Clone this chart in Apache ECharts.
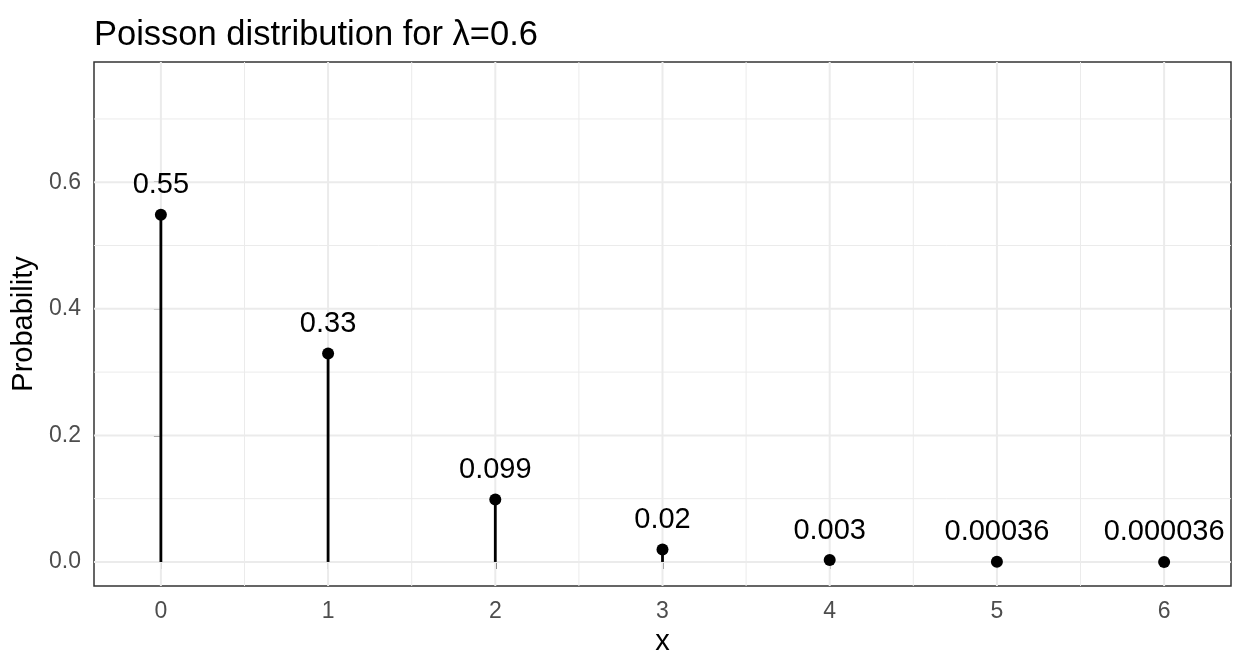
<!DOCTYPE html>
<html>
<head>
<meta charset="utf-8">
<script src="https://cdn.jsdelivr.net/npm/echarts@6/dist/echarts.min.js"></script>
<style>
  html, body { margin: 0; padding: 0; background: #ffffff; }
  #chart { width: 1235px; height: 652px; }
</style>
</head>
<body>
<div id="chart"></div>
<script>
const xValues = [0, 1, 2, 3, 4, 5, 6];
const probabilities = [0.5488, 0.3293, 0.0988, 0.0198, 0.00296, 0.000356, 0.0000356];
const valueLabels = ['0.55', '0.33', '0.099', '0.02', '0.003', '0.00036', '0.000036'];
const yTickValues = [0, 0.2, 0.4, 0.6];
const yMinorValues = [0.1, 0.3, 0.5, 0.7];
const xTickValues = [0, 1, 2, 3, 4, 5, 6];
const xMinorValues = [0.5, 1.5, 2.5, 3.5, 4.5, 5.5];

const FONT = 'Liberation Sans, Arial, Helvetica, sans-serif';
const chart = echarts.init(document.getElementById('chart'), null, { renderer: 'canvas' });

const points = xValues.map((x, i) => ({ value: [x, probabilities[i]], label: { formatter: valueLabels[i] } }));

// grid line items: [value, lineWidth]
const hLines = yMinorValues.map(v => [v, 1]).concat(yTickValues.map(v => [v, 2]));
const vLines = xMinorValues.map(v => [v, 1]).concat(xTickValues.map(v => [v, 2]));

function gridRender(horizontal) {
  return function (params, api) {
    const cs = params.coordSys;
    const v = api.value(0);
    const w = api.value(1);
    let shape;
    if (horizontal) {
      const p = api.coord([0, v]);
      shape = { x1: cs.x, y1: p[1], x2: cs.x + cs.width, y2: p[1] };
    } else {
      const p = api.coord([v, 0]);
      shape = { x1: p[0], y1: cs.y, x2: p[0], y2: cs.y + cs.height };
    }
    return { type: 'line', shape: shape, style: { stroke: '#EBEBEB', lineWidth: w } };
  };
}

chart.setOption({
  animation: false,
  backgroundColor: '#ffffff',
  textStyle: { fontFamily: FONT },
  title: {
    text: 'Poisson distribution for λ=0.6',
    left: 89, top: 13,
    textStyle: { fontFamily: FONT, fontSize: 34.5, fontWeight: 'normal', color: '#000000' }
  },
  grid: {
    left: 94, top: 62, width: 1137, height: 524,
    outerBoundsMode: 'none', containLabel: false,
    show: true, borderColor: '#333333', borderWidth: 1.5, backgroundColor: '#ffffff'
  },
  xAxis: {
    type: 'value', min: -0.4, max: 6.4,
    name: 'x', nameLocation: 'middle', nameGap: 40,
    nameTextStyle: { fontFamily: FONT, fontSize: 29, color: '#000000' },
    axisLine: { show: false },
    splitLine: { show: false },
    axisTick: { show: true, length: 7, customValues: xTickValues, lineStyle: { color: '#333333', width: 1.5 } },
    axisLabel: { customValues: xTickValues, margin: 14, fontSize: 23, color: '#4D4D4D', fontFamily: FONT, formatter: v => String(v) }
  },
  yAxis: {
    type: 'value', min: -0.038, max: 0.79,
    name: 'Probability', nameLocation: 'middle', nameGap: 53, nameRotate: 90,
    nameTextStyle: { fontFamily: FONT, fontSize: 29, color: '#000000' },
    axisLine: { show: false },
    splitLine: { show: false },
    axisTick: { show: true, length: 7, customValues: yTickValues, lineStyle: { color: '#333333', width: 1.5 } },
    axisLabel: { customValues: yTickValues, margin: 13, fontSize: 23, color: '#4D4D4D', fontFamily: FONT, formatter: v => v.toFixed(1) }
  },
  series: [
    { type: 'custom', z: 1, silent: true, clip: true, data: hLines, renderItem: gridRender(true) },
    { type: 'custom', z: 1, silent: true, clip: true, data: vLines, renderItem: gridRender(false) },
    {
      type: 'custom', z: 3, silent: true,
      data: xValues.map((x, i) => [x, probabilities[i]]),
      renderItem: function (params, api) {
        const top = api.coord([api.value(0), api.value(1)]);
        const base = api.coord([api.value(0), 0]);
        return { type: 'line', shape: { x1: base[0], y1: base[1], x2: top[0], y2: top[1] }, style: { stroke: '#000000', lineWidth: 2.8 } };
      }
    },
    {
      type: 'scatter', z: 4, symbol: 'circle', symbolSize: 12,
      itemStyle: { color: '#000000', opacity: 1 },
      label: { show: true, position: 'top', distance: 9, fontSize: 29, color: '#000000', opacity: 1, fontFamily: FONT },
      emphasis: { disabled: true },
      data: points
    }
  ]
});
</script>
</body>
</html>
